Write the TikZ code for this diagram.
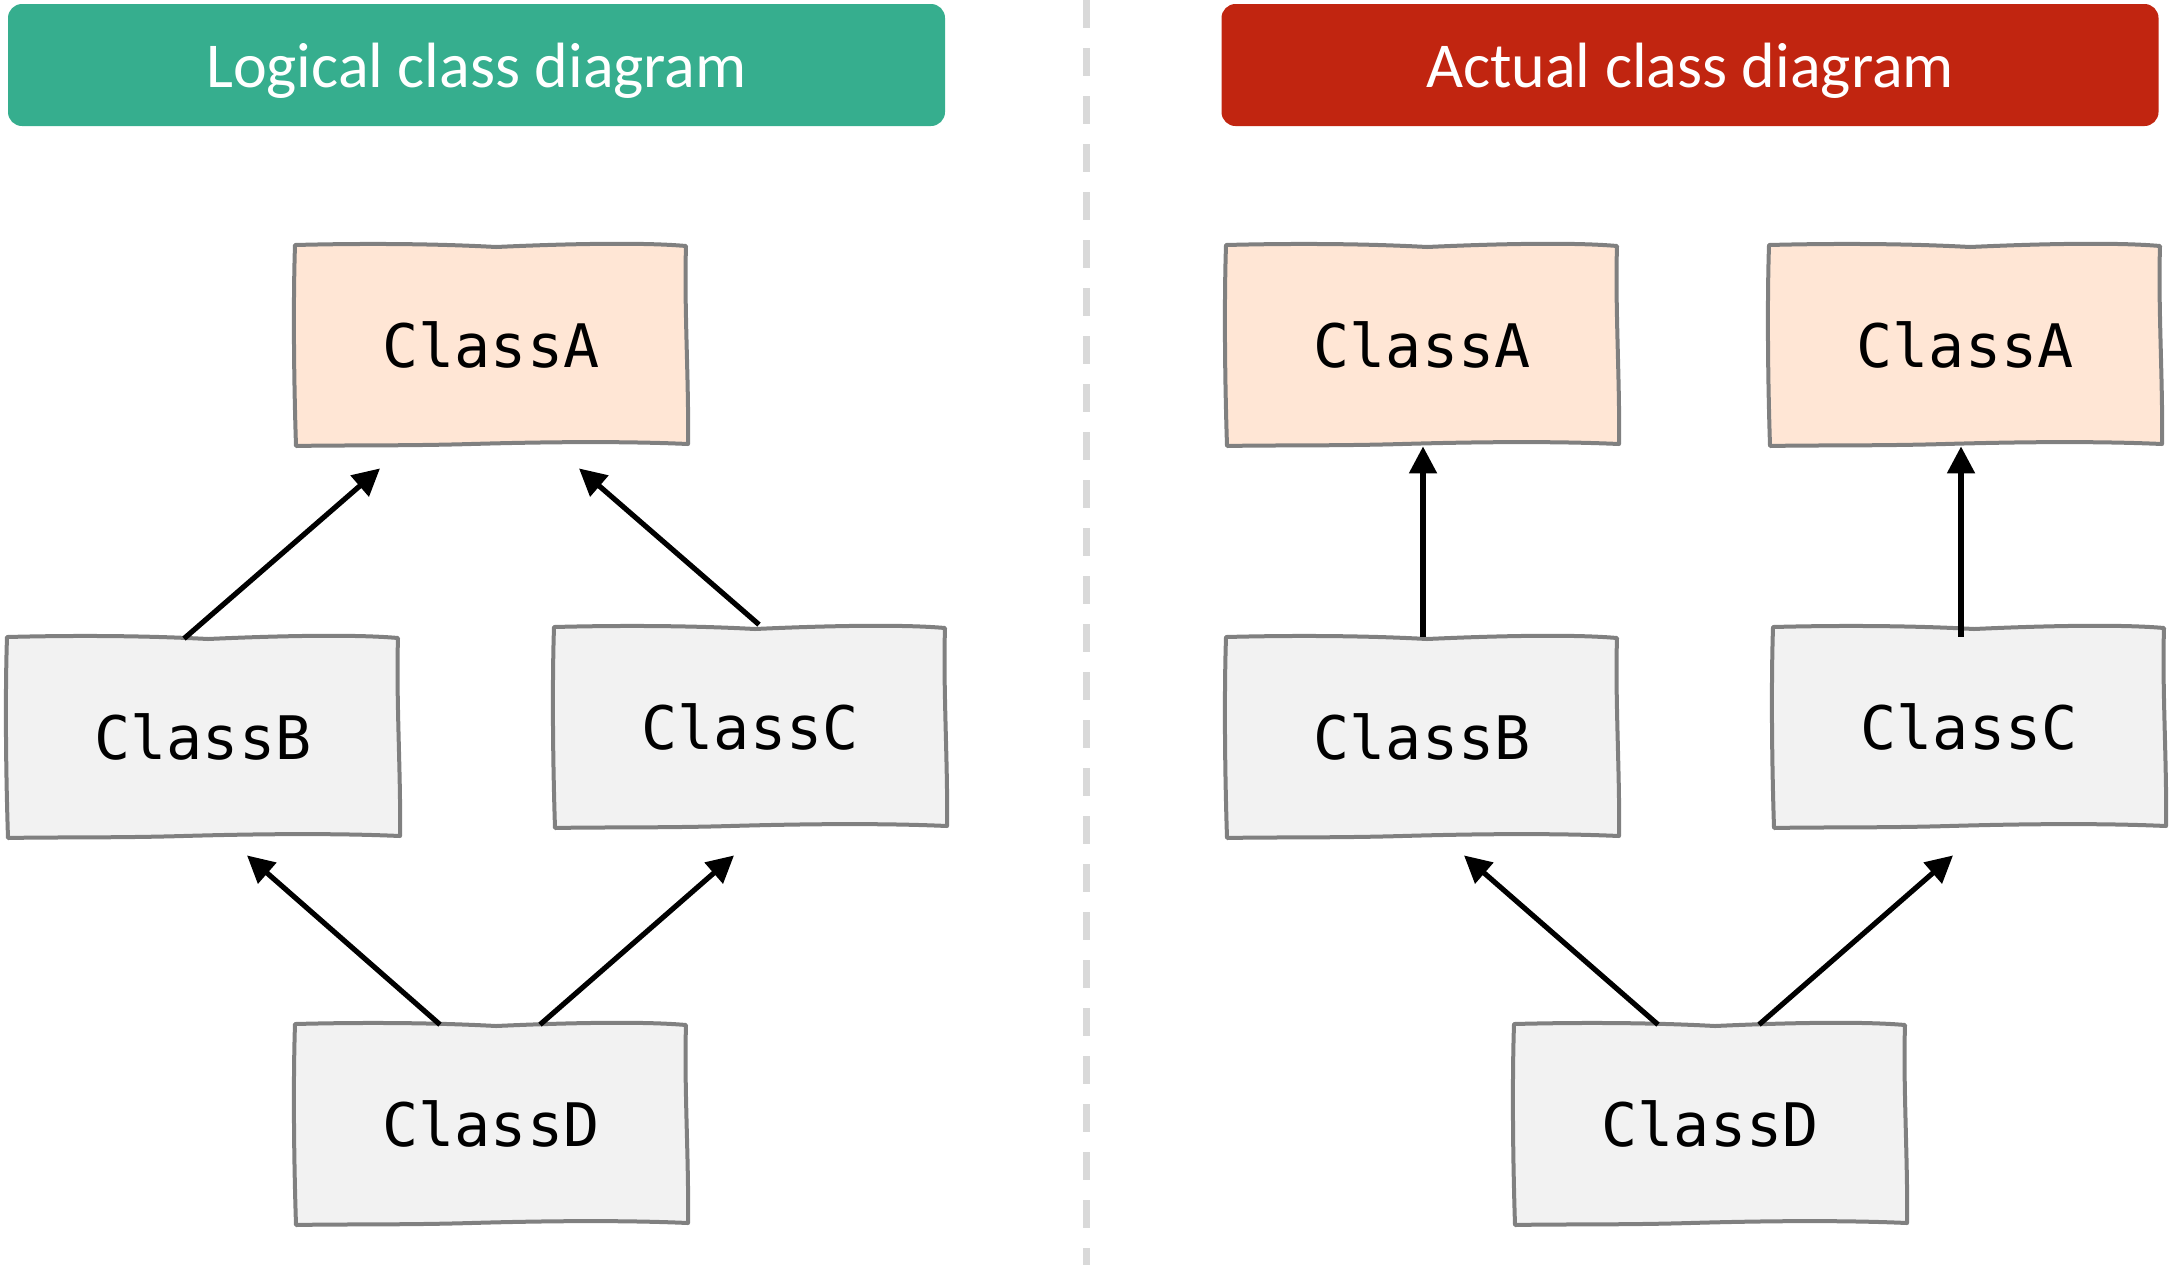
\documentclass[tikz,border=0pt]{standalone}
\usepackage{fontspec}
\newfontfamily\titlefont{Carlito}
\newfontfamily\codefont{DejaVu Sans Mono}
\usetikzlibrary{calc,arrows.meta}

\definecolor{bannergreen}{RGB}{54,174,142}
\definecolor{bannerred}{RGB}{193,37,16}
\definecolor{peach}{RGB}{255,230,213}
\definecolor{lightgray}{RGB}{242,242,242}
\definecolor{edgegray}{RGB}{128,128,128}
\definecolor{sepgray}{RGB}{217,217,217}

\tikzset{
  banner/.style={fill=#1, rounded corners=7pt, minimum width=468.5pt, minimum height=61pt,
    inner sep=0pt, text=white, font=\titlefont\fontsize{32}{38}\selectfont},
  cls/.style={minimum width=196pt, minimum height=101pt, inner sep=0pt,
    font=\codefont\fontsize{30}{36}\selectfont},
  rough/.style={draw=edgegray, line width=2pt, line join=round},
  arr/.style={line width=2.6pt, -{Triangle[length=13.5pt,width=13.5pt]}},
  sep/.style={draw=sepgray, line width=3.5pt, dash pattern=on 14pt off 10pt}
}

% hand-drawn class box: name, position, fill, label
\newcommand{\classbox}[4]{%
  \begin{scope}[shift={(#2)}]
    \filldraw[rough, fill=#3] (-196,-100) .. controls (-120,-102) and (-50,-101) .. (5,-98)
      .. controls (70,-101) and (150,-103) .. (195,-99)
      .. controls (193,-40) and (198,40) .. (197,99)
      .. controls (130,96) and (50,97) .. (-20,99)
      .. controls (-90,101) and (-150,100) .. (-195,101)
      .. controls (-197,40) and (-198,-40) .. cycle;
  \end{scope}
  \node[cls] (#1) at (#2) {#4};}

\begin{document}
\begin{tikzpicture}[x=0.5pt,y=0.5pt,yscale=-1,xscale=1]
\useasboundingbox (0,0) rectangle (2172,1265);

% Titles
\node[banner=bannergreen] (hLeft) at (476.5,65) {\raisebox{-11pt}[0pt][0pt]{Logical class diagram}};
\node[banner=bannerred] (hRight) at (1690,65) {\raisebox{-11pt}[0pt][0pt]{Actual class diagram}};

% Separator
\draw[sep] (1086,0) -- (1086,1265);

% Logical diagram
\classbox{lA}{491,345}{peach}{ClassA}
\classbox{lB}{203,737}{lightgray}{ClassB}
\classbox{lC}{750,727}{lightgray}{ClassC}
\classbox{lD}{491,1124}{lightgray}{ClassD}

\draw[arr] ($(lB.north)+(-19,3)$) -- ($(lA.south)+(-111,22)$);
\draw[arr] ($(lC.north)+(9,-1)$) -- ($(lA.south)+(88,22)$);
\draw[arr] ($(lD.north)+(-51,2)$) -- ($(lB.south)+(44,17)$);
\draw[arr] ($(lD.north)+(49,2)$) -- ($(lC.south)+(-16,27)$);

% Actual diagram
\classbox{rA1}{1422,345}{peach}{ClassA}
\classbox{rA2}{1965,345}{peach}{ClassA}
\classbox{rB}{1422,737}{lightgray}{ClassB}
\classbox{rC}{1969,727}{lightgray}{ClassC}
\classbox{rD}{1710,1124}{lightgray}{ClassD}

\draw[arr] ($(rB.north)+(1,1)$) -- ($(rA1.south)+(1,0)$);
\draw[arr] ($(rC.north)+(-8,11)$) -- ($(rA2.south)+(-4,0)$);
\draw[arr] ($(rD.north)+(-52,2)$) -- ($(rB.south)+(42,17)$);
\draw[arr] ($(rD.north)+(49,2)$) -- ($(rC.south)+(-16,27)$);

\end{tikzpicture}
\end{document}
